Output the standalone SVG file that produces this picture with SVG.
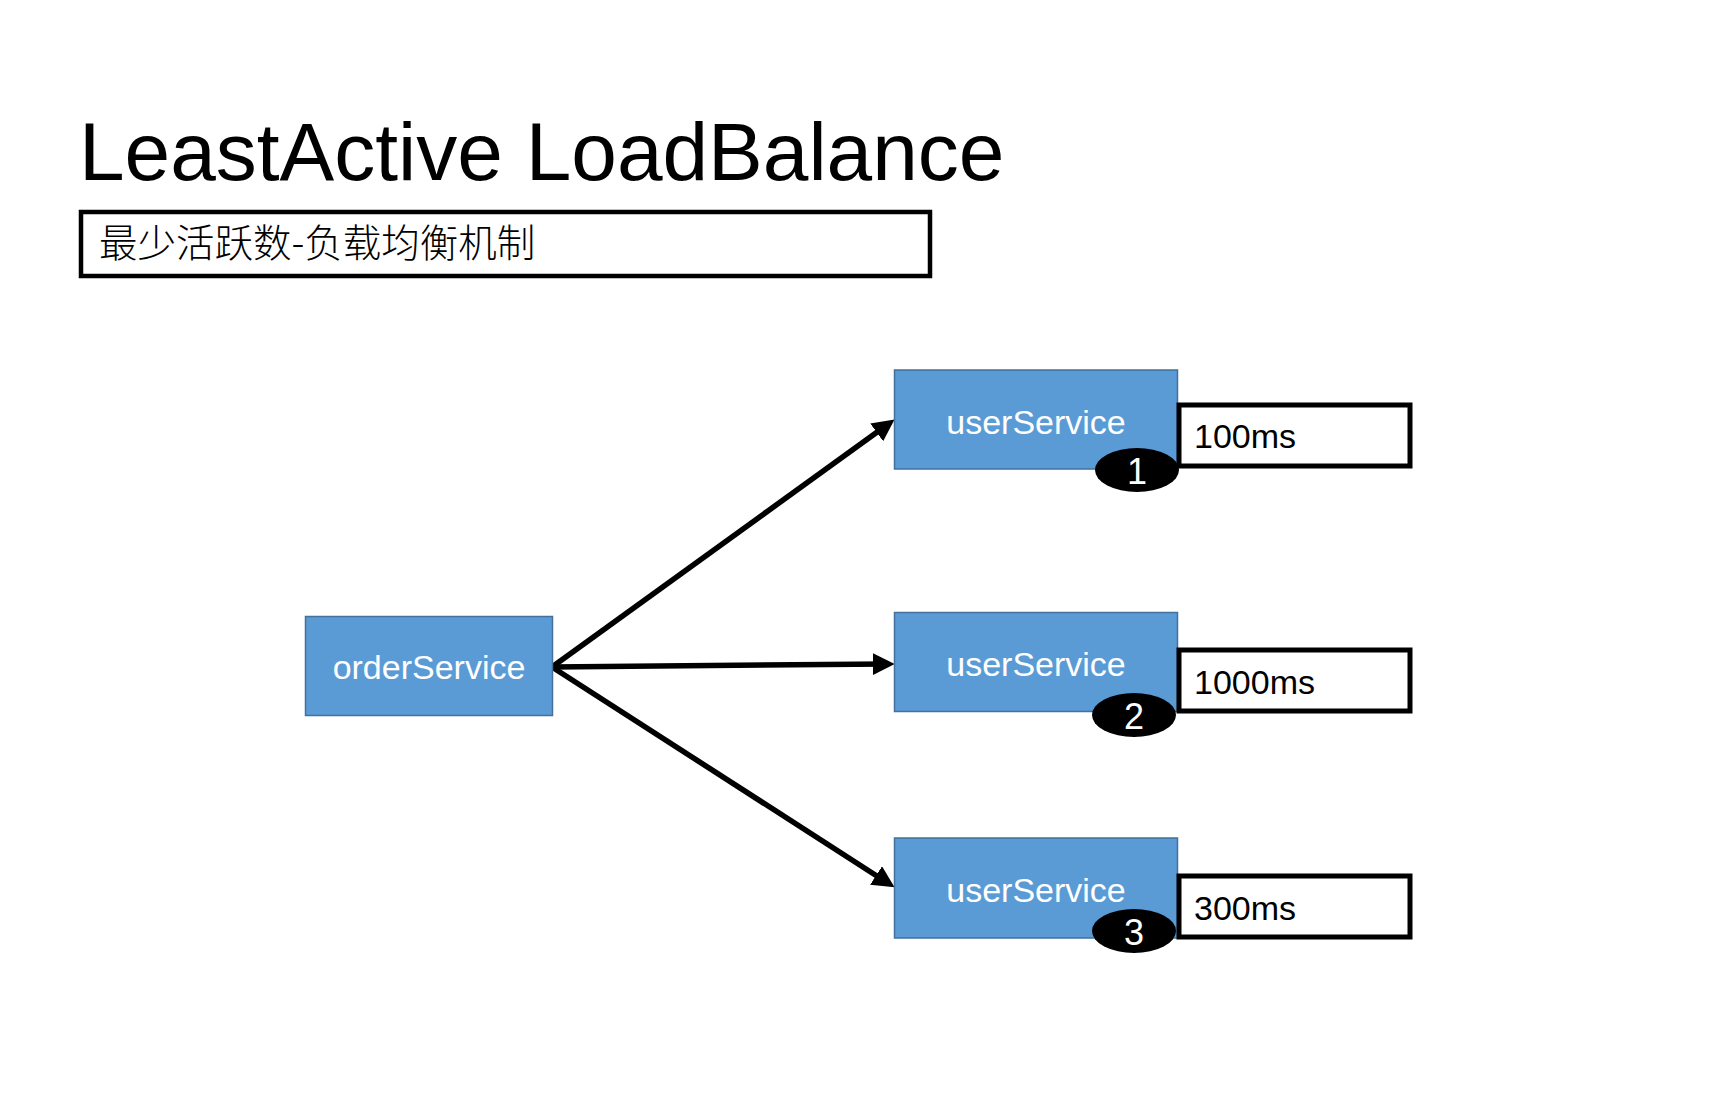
<svg xmlns="http://www.w3.org/2000/svg" width="1735" height="1093" viewBox="0 0 1735 1093">
<style>
.svc{fill:#5B9BD5;stroke:#41719C;stroke-width:1.5}
.svct{font-family:"Liberation Sans",Arial,sans-serif;font-size:34px;fill:#FFFFFF;text-anchor:middle}
.lbl{fill:#FFFFFF;stroke:#000000;stroke-width:5}
.lblt{font-family:"Liberation Sans",Arial,sans-serif;font-size:34px;fill:#000000}
.badge{fill:#000000}
.badget{font-family:"Liberation Sans",Arial,sans-serif;font-size:36px;fill:#FFFFFF;text-anchor:middle}
.conn{stroke:#000000;stroke-width:5.5;fill:none;stroke-linejoin:miter}
</style>
<defs>
<marker id="ah" markerUnits="userSpaceOnUse" markerWidth="22" markerHeight="22" viewBox="0 0 20 20" refX="13" refY="10" orient="auto">
<path d="M0,0 L20,10 L0,20 z" fill="#000000"/>
</marker>
</defs>
<rect width="1735" height="1093" fill="#FFFFFF"/>
<g id="title">
<text x="79" y="180" font-family="'Liberation Sans',Arial,sans-serif" font-size="82" fill="#000000">LeastActive LoadBalance</text>
</g>
<g id="subtitle">
<rect x="81" y="212" width="849" height="64" fill="#FFFFFF" stroke="#000000" stroke-width="4.5"/>
<text x="99" y="257" font-family="'Noto Sans CJK SC',sans-serif" font-size="38.5" font-weight="300" fill="#000000">最少活跃数-负载均衡机制</text>
</g>
<g id="connectors">
<path class="conn" d="M552,667 L888.3,424" marker-end="url(#ah)"/>
<path class="conn" d="M552,667 L887,664" marker-end="url(#ah)"/>
<path class="conn" d="M552,667 L888.1,883.2" marker-end="url(#ah)"/>
</g>
<g id="orderService">
<rect class="svc" x="305.5" y="616.5" width="247" height="99"/>
<text class="svct" x="429" y="679">orderService</text>
</g>
<g id="userService1">
<rect class="svc" x="894.5" y="370" width="283" height="99"/>
<text class="svct" x="1036" y="434">userService</text>
<rect class="lbl" x="1179" y="405" width="231" height="61"/>
<text class="lblt" x="1194" y="448">100ms</text>
<ellipse class="badge" cx="1137" cy="470" rx="42" ry="22"/>
<text class="badget" x="1137" y="484">1</text>
</g>
<g id="userService2">
<rect class="svc" x="894.5" y="612.5" width="283" height="99"/>
<text class="svct" x="1036" y="676">userService</text>
<rect class="lbl" x="1179" y="650" width="231" height="61"/>
<text class="lblt" x="1194" y="694">1000ms</text>
<ellipse class="badge" cx="1134" cy="715" rx="42" ry="22"/>
<text class="badget" x="1134" y="729">2</text>
</g>
<g id="userService3">
<rect class="svc" x="894.5" y="838" width="283" height="100"/>
<text class="svct" x="1036" y="902">userService</text>
<rect class="lbl" x="1179" y="876" width="231" height="61"/>
<text class="lblt" x="1194" y="920">300ms</text>
<ellipse class="badge" cx="1134" cy="931" rx="42" ry="22"/>
<text class="badget" x="1134" y="945">3</text>
</g>
</svg>
